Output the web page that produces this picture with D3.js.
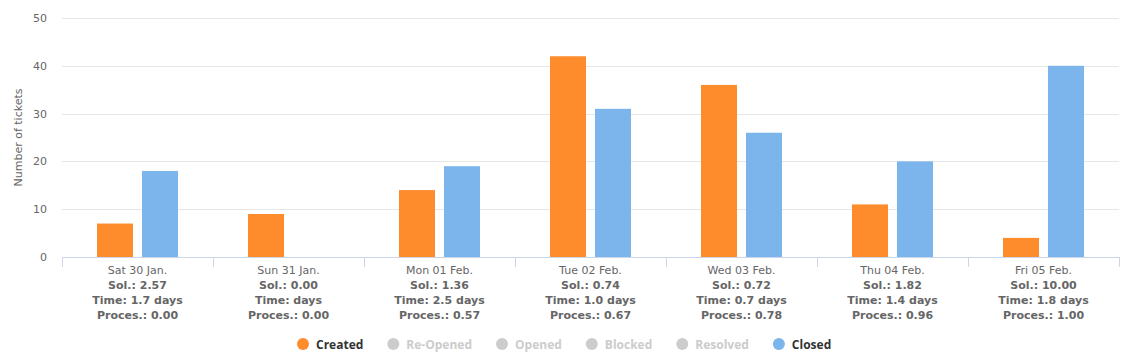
<!DOCTYPE html>
<html><head><meta charset="utf-8">
<script src="https://cdn.jsdelivr.net/npm/d3@7"></script>
<style>body{margin:0;background:#fff}svg{display:block}</style>
</head><body><svg id="c" width="1129" height="356"></svg>
<script>
const categories = ["Sat 30 Jan.","Sun 31 Jan.","Mon 01 Feb.","Tue 02 Feb.","Wed 03 Feb.","Thu 04 Feb.","Fri 05 Feb."];
const solValues = ["2.57","0.00","1.36","0.74","0.72","1.82","10.00"];
const timeValues = ["1.7 days","days","2.5 days","1.0 days","0.7 days","1.4 days","1.8 days"];
const procesValues = ["0.00","0.00","0.57","0.67","0.78","0.96","1.00"];
const createdValues = [7, 9, 14, 42, 36, 11, 4];
const closedValues = [18, 0, 19, 31, 26, 20, 40];
const yTicks = [0, 10, 20, 30, 40, 50];
const legendItems = [
  {name:"Created", color:"#fe8c2d", visible:true},
  {name:"Re-Opened", color:"#cccccc", visible:false},
  {name:"Opened", color:"#cccccc", visible:false},
  {name:"Blocked", color:"#cccccc", visible:false},
  {name:"Resolved", color:"#cccccc", visible:false},
  {name:"Closed", color:"#7cb5ec", visible:true}
];
const series = [{name:"Created", color:"#fe8c2d", values:createdValues},{name:"Closed", color:"#7cb5ec", values:closedValues}];

const FONT = "'DejaVu Sans', 'Lucida Grande', sans-serif";
const LFONT = "'Open Sans', 'DejaVu Sans', sans-serif";
const svg = d3.select("#c");
const pLeft = 62, pRight = 1119, pTop = 18, pBottom = 257;

const x = d3.scaleBand().domain(categories).range([pLeft, pRight]).paddingInner(0).paddingOuter(0);
const xs = d3.scaleBand().domain(series.map(s=>s.name)).range([0, x.bandwidth()]).paddingInner(0.2).paddingOuter(0.778);
const y = d3.scaleLinear().domain([0, 50]).range([pBottom, pTop]);

svg.append("g").selectAll("line").data(yTicks).join("line")
  .attr("x1", pLeft).attr("x2", pRight)
  .attr("y1", d=>Math.round(y(d))+0.5).attr("y2", d=>Math.round(y(d))+0.5)
  .attr("stroke", "#e6e6e6");

svg.append("g").selectAll("text").data(yTicks).join("text")
  .attr("x", 47).attr("y", d=>y(d)+4)
  .attr("text-anchor","end").attr("font-family",FONT).attr("font-size","11px").attr("fill","#666")
  .text(d=>d);

svg.append("text").attr("transform","translate(22,"+((pTop+pBottom)/2)+") rotate(-90)")
  .attr("text-anchor","middle").attr("font-family",FONT).attr("font-size","11px").attr("fill","#666")
  .text("Number of tickets");

series.forEach(s=>{
  svg.append("g").selectAll("rect").data(s.values.map((v,i)=>({v, c:categories[i]}))).join("rect")
    .attr("x", d=>x(d.c)+xs(s.name))
    .attr("width", xs.bandwidth())
    .attr("y", d=>y(d.v))
    .attr("height", d=>y(0)-y(d.v))
    .attr("fill", s.color);
});

svg.append("line").attr("x1",pLeft).attr("x2",pRight).attr("y1",pBottom+0.5).attr("y2",pBottom+0.5).attr("stroke","#ccd6eb");
const tickPos = categories.map(c=>x(c)).concat([pRight]);
svg.append("g").selectAll("line").data(tickPos).join("line")
  .attr("x1",d=>Math.round(d)+0.5).attr("x2",d=>Math.round(d)+0.5)
  .attr("y1",pBottom).attr("y2",pBottom+10).attr("stroke","#ccd6eb");

const xl = svg.append("g").selectAll("text").data(categories).join("text")
  .attr("x", d=>x(d)+x.bandwidth()/2).attr("y", 274)
  .attr("text-anchor","middle").attr("font-family",FONT).attr("font-size","11px").attr("fill","#666");
xl.each(function(d,i){
  const t = d3.select(this);
  const cxp = x(d)+x.bandwidth()/2;
  t.append("tspan").attr("x", cxp).attr("dy",0).text(d);
  t.append("tspan").attr("x", cxp).attr("dy",15).attr("font-weight","bold").text("Sol.: "+solValues[i]);
  t.append("tspan").attr("x", cxp).attr("dy",15).attr("font-weight","bold").text("Time: "+timeValues[i]);
  t.append("tspan").attr("x", cxp).attr("dy",15).attr("font-weight","bold").text("Proces.: "+procesValues[i]);
});

const lg = svg.append("g");
let cx = 0;
legendItems.forEach(it=>{
  const g = lg.append("g");
  g.append("circle").attr("cx",6).attr("cy",0).attr("r",6).attr("fill",it.color);
  const t = g.append("text").attr("x",19).attr("y",4.5).attr("font-family",LFONT).attr("font-size","12px")
    .attr("font-weight","bold").attr("fill", it.visible ? "#333" : "#cccccc").text(it.name);
  const w = 19 + t.node().getComputedTextLength();
  g.attr("transform","translate("+cx+",0)");
  cx += w + 24;
});
const totalW = cx - 24;
lg.attr("transform","translate("+Math.round((1129-totalW)/2)+",344)");
</script></body></html>
